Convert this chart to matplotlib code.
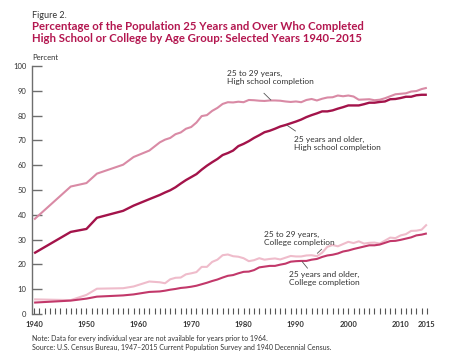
import matplotlib
matplotlib.use("Agg")
import matplotlib.pyplot as plt

plt.rcParams["font.family"] = ["Lato", "DejaVu Sans"]

# survey years: sparse before 1964, annual afterwards
years = [1940, 1947, 1950, 1952, 1957, 1959, 1962] + list(range(1964, 2016))

hs_25_29 = [38.1, 51.4, 52.8, 56.6, 60.2, 63.3, 65.9,
            69.2, 70.3, 71.0, 72.5, 73.2, 74.7, 75.4, 77.2, 79.8, 80.2,
            81.9, 83.1, 84.7, 85.4, 85.3, 85.6, 85.4, 86.3, 86.2, 86.0,
            85.9, 86.1, 86.1, 86.0, 85.7, 85.5, 85.7, 85.4, 86.3, 86.7,
            86.1, 86.8, 87.3, 87.4, 88.1, 87.8, 88.1, 87.7, 86.4, 86.5,
            86.6, 86.2, 86.4, 87.0, 87.8, 88.6, 88.8, 89.0, 89.7, 89.9,
            90.7, 91.2]

hs_25_up = [24.5, 33.1, 34.3, 38.8, 41.6, 43.7, 46.3,
            48.0, 49.0, 49.9, 51.1, 52.6, 54.0, 55.2, 56.4, 58.2, 59.8,
            61.2, 62.5, 64.1, 64.9, 65.9, 67.7, 68.6, 69.7, 71.0, 72.1,
            73.3, 73.9, 74.7, 75.6, 76.2, 76.9, 77.6, 78.4, 79.4, 80.2,
            80.9, 81.7, 81.7, 82.1, 82.8, 83.4, 84.1, 84.1, 84.1, 84.6,
            85.2, 85.2, 85.5, 85.7, 86.6, 86.7, 87.1, 87.6, 87.6, 88.2,
            88.4, 88.4]

col_25_29 = [5.9, 5.6, 7.7, 10.2, 10.4, 11.1, 13.1,
             12.8, 12.4, 14.0, 14.6, 14.7, 16.0, 16.4, 16.9, 19.0, 19.0,
             21.0, 21.9, 23.7, 24.0, 23.3, 23.1, 22.5, 21.3, 21.7, 22.5,
             21.9, 22.2, 22.4, 22.0, 22.7, 23.4, 23.2, 23.2, 23.6, 23.7,
             23.3, 24.7, 27.1, 27.8, 27.3, 28.2, 29.1, 28.6, 29.3, 28.4,
             28.7, 28.8, 28.4, 29.6, 30.8, 30.6, 31.7, 32.2, 33.5, 33.6,
             34.0, 36.1]

col_25_up = [4.6, 5.4, 6.2, 7.0, 7.5, 7.9, 8.9,
             9.1, 9.4, 9.8, 10.1, 10.5, 10.7, 11.0, 11.4, 12.0, 12.6,
             13.3, 13.9, 14.7, 15.4, 15.7, 16.4, 17.0, 17.1, 17.7, 18.8,
             19.1, 19.4, 19.4, 19.9, 20.3, 21.1, 21.3, 21.4, 21.4, 21.9,
             22.2, 23.0, 23.6, 23.9, 24.4, 25.2, 25.6, 26.2, 26.7, 27.2,
             27.7, 27.7, 28.0, 28.7, 29.4, 29.5, 29.9, 30.4, 30.9, 31.7,
             32.0, 32.5]

x_labels = [1940, 1950, 1960, 1970, 1980, 1990, 2000, 2010, 2015]
y_ticks = [0, 10, 20, 30, 40, 50, 60, 70, 80, 90, 100]

title_color = "#b3164f"
grey = "#6e6e6e"

fig = plt.figure(figsize=(4.65, 3.6), dpi=100)
ax = fig.add_axes([32 / 465, 46 / 360, 398 / 465, 248 / 360])

ax.plot(years, hs_25_29, color="#d98aa5", lw=1.5, solid_capstyle="butt")
ax.plot(years, col_25_29, color="#efbccb", lw=1.5, solid_capstyle="butt")
ax.plot(years, col_25_up, color="#c2386a", lw=1.5, solid_capstyle="butt")
ax.plot(years, hs_25_up, color="#a3134a", lw=1.7, solid_capstyle="butt")

ax.set_xlim(1939.6, 2015.6)
ax.set_ylim(0, 100)

for s in ["top", "right", "bottom"]:
    ax.spines[s].set_visible(False)
ax.spines["left"].set_color(grey)
ax.spines["left"].set_linewidth(1.0)

ax.set_yticks(y_ticks)
ax.tick_params(axis="y", direction="in", length=7, width=1.0, color=grey,
               labelsize=5.5, pad=4, labelcolor="#333333")
ax.set_xticks(x_labels)
ax.set_xticks(range(1940, 2016), minor=True)
ax.tick_params(axis="x", which="both", direction="in", length=4, width=0.8,
               color="#555555", labelsize=5.5, pad=5, labelcolor="#333333")
for lab in ax.get_xticklabels():
    lab.set_fontweight("bold")

# labels with short leader lines
fs = 6
ax.text(1976.9, 98.5, "25 to 29 years,\nHigh school completion", fontsize=fs,
        va="top", color="#333333", linespacing=1.2)
ax.plot([1983.9, 1985.2], [89.0, 86.3], color="#555555", lw=0.6)
ax.text(1989.7, 72.0, "25 years and older,\nHigh school completion", fontsize=fs,
        va="top", color="#333333", linespacing=1.2)
ax.plot([1988.3, 1989.9], [76.1, 73.8], color="#555555", lw=0.6)
ax.text(1983.9, 33.6, "25 to 29 years,\nCollege completion", fontsize=fs,
        va="top", color="#333333", linespacing=1.2)
ax.plot([1994.1, 1994.9], [24.5, 26.1], color="#555555", lw=0.6)
ax.text(1988.7, 17.5, "25 years and older,\nCollege completion", fontsize=fs,
        va="top", color="#333333", linespacing=1.2)
ax.plot([1991.2, 1992.2], [21.1, 18.5], color="#555555", lw=0.6)

fig.text(32 / 465, 1 - 57 / 360, "Percent", fontsize=5.5, color="#333333",
         va="center")
fig.text(32 / 465, 1 - 16 / 360, "Figure 2.", fontsize=6.5, color="#333333",
         va="center")
fig.text(32 / 465, 1 - 32.5 / 360,
         "Percentage of the Population 25 Years and Over Who Completed\n"
         "High School or College by Age Group: Selected Years 1940\u20132015",
         fontsize=8.2, fontweight="bold", color=title_color, va="center",
         linespacing=1.15)
fig.text(32 / 465, 1 - 343 / 360,
         "Note: Data for every individual year are not available for years prior to 1964.\n"
         "Source: U.S. Census Bureau, 1947\u20132015 Current Population Survey and 1940 Decennial Census.",
         fontsize=5.0, color="#333333", va="center", linespacing=1.3)

fig.savefig("out.png", dpi=100)
